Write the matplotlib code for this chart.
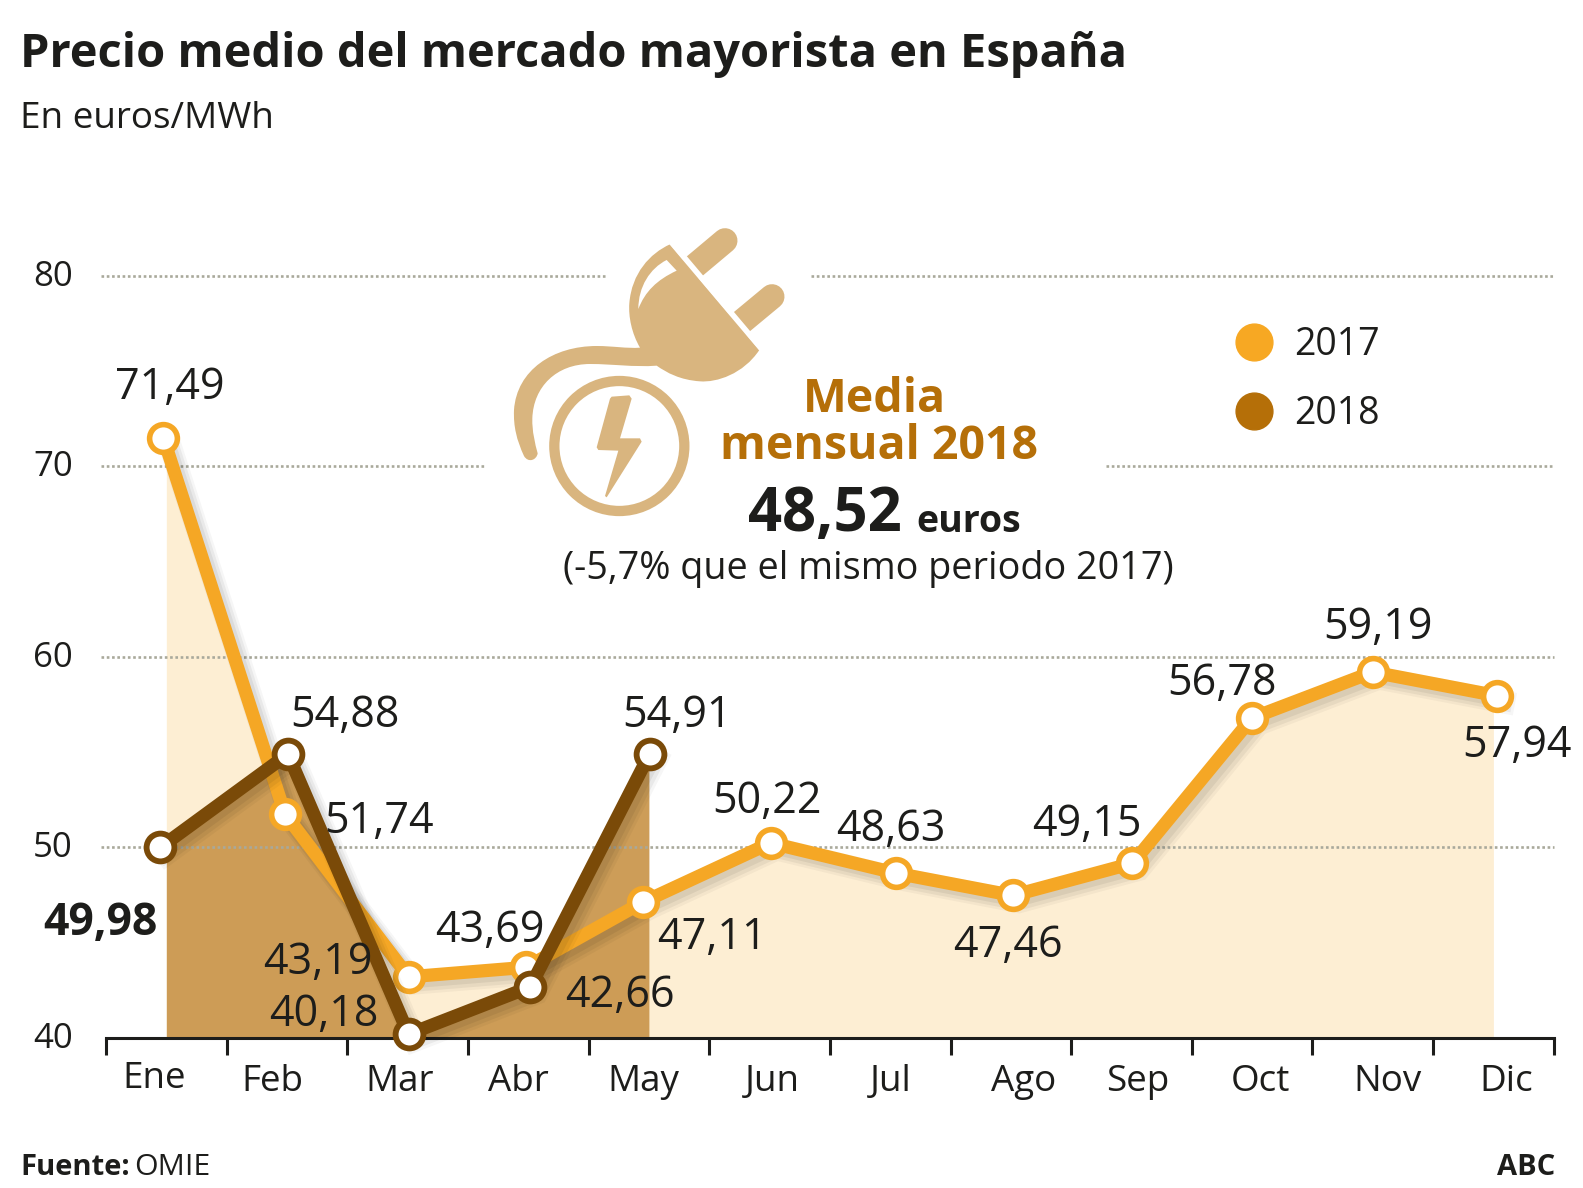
import matplotlib
matplotlib.use("Agg")
import matplotlib.pyplot as plt
import matplotlib.patheffects as pe
from matplotlib.path import Path
from matplotlib.patches import PathPatch, Circle
from matplotlib.lines import Line2D
from matplotlib.transforms import ScaledTranslation
import numpy as np

# ---------- data ----------
months = ["Ene", "Feb", "Mar", "Abr", "May", "Jun", "Jul", "Ago", "Sep", "Oct", "Nov", "Dic"]
values_2017 = [71.49, 51.74, 43.19, 43.69, 47.11, 50.22, 48.63, 47.46, 49.15, 56.78, 59.19, 57.94]
values_2018 = [49.98, 54.88, 40.18, 42.66, 54.91]
y_ticks = [40, 50, 60, 70, 80]

# ---------- colours / fonts ----------
C17, C18 = "#f5a725", "#7a4a08"
F17, F18 = "#fdeed3", "#cc9a52"
ICON, GOLD, INK, GRID = "#d9b57f", "#b56f08", "#1d1d1b", "#a9a99b"
plt.rcParams["font.family"] = ["Open Sans", "DejaVu Sans"]

W, H = 1568.0, 1177.0   # layout reference
fig = plt.figure(figsize=(15.83, 11.88), dpi=100, facecolor="white")
ax = fig.add_axes([105 / W, 1 - 1028 / H, (1539 - 105) / W, (1028 - 273) / H])
ax.set_xlim(0, 12)
ax.set_ylim(40, 80)
ax.patch.set_alpha(0)
for s in ("left", "right", "top"):
    ax.spines[s].set_visible(False)
ax.spines["bottom"].set_linewidth(2.2)
ax.spines["bottom"].set_color(INK)

PX = 12 / (1539 - 105)     # one layout pixel in month units
centres = np.arange(12) + 0.5
nudge_17 = np.array([-3, -2, 1, -2, -6, 1, 6, 2, 1, 0, 0, 4]) * PX
nudge_18 = np.array([-6, 1, 1, 2, 1]) * PX

# ticks
ax.set_xticks(np.arange(13))
ax.set_xticklabels([])
ax.tick_params(axis="x", which="major", length=12.5, width=2.2, color=INK, direction="out")
label_nudge = np.array([-12, -14, -8, -10, -6, 3, 1, 13, 6, 8, 15, 13]) * PX
ax.set_xticks(centres + label_nudge, months, minor=True)
ax.tick_params(axis="x", which="minor", length=0, pad=19, labelsize=26.5, labelcolor=INK)
for i, lab in enumerate(ax.get_xticklabels(minor=True)):
    if i == 0:
        lab.set_transform(lab.get_transform() + ScaledTranslation(0, 3 / 100, fig.dpi_scale_trans))
ax.set_yticks(y_ticks, [str(v) for v in y_ticks])
ax.tick_params(axis="y", length=0, pad=24, labelsize=25, labelcolor=INK)
for lab in ax.get_yticklabels():
    lab.set_transform(lab.get_transform() + ScaledTranslation(0, 3 / 100, fig.dpi_scale_trans))

# fills
ax.fill_between(centres, 40, values_2017, color=F17, lw=0, zorder=1)
ax.fill_between(centres[:5], 40, values_2018, color=F18, lw=0, zorder=1.5, alpha=0.97)

# grid (interrupted behind the plug artwork)
grid_spans = {80: [(-5, 600), (803, 1539)], 70: [(-5, 480), (1096, 1539)],
              60: [(-5, 1539)], 50: [(-5, 1539)]}
for val, spans in grid_spans.items():
    for a, b in spans:
        a0 = 100 if a < 0 else a
        ax.plot([(a0 - 105) * PX, (b - 105) * PX], [val, val], color=GRID, lw=1.9,
                ls=(0, (1.0, 1.0)), zorder=2, clip_on=False)


def shadow(lw):
    return [pe.SimpleLineShadow(offset=(o, -o), alpha=a, shadow_color="#000000", linewidth=lw + w)
            for o, a, w in ((4.5, 0.035, 7), (4, 0.05, 4), (3, 0.06, 1))] + [pe.Normal()]


x17 = centres + nudge_17
x18 = centres[:5] + nudge_18
ax.plot(x17, values_2017, color=C17, lw=9.5, zorder=3, clip_on=False,
        solid_joinstyle="miter", path_effects=shadow(9.5))
ax.plot(x17, values_2017, ls="none", marker="o", ms=20, mfc="white", mec=C17, mew=4,
        zorder=3.2, clip_on=False)
ax.plot(x18, values_2018, color=C18, lw=9.5, zorder=4, clip_on=False,
        solid_joinstyle="miter", path_effects=shadow(9.5))
ax.plot(x18, values_2018, ls="none", marker="o", ms=20, mfc="white", mec=C18, mew=4.2,
        zorder=4.2, clip_on=False)


def T(x, y, s, **kw):
    kw.setdefault("ha", "center")
    kw.setdefault("va", "center")
    kw.setdefault("color", INK)
    return fig.text(x / W, 1 - (y + 4) / H, s, **kw)


def fmt(v):
    return f"{v:.2f}".replace(".", ",")


# value labels
pos_17 = [(168, 380), (375, 810), (315, 950), (485, 918), (705, 925), (760, 790),
          (882, 818), (998, 933), (1077, 813), (1210, 673), (1365, 618), (1503, 735)]
pos_18 = [(99, 911), (342, 705), (321, 1001), (614, 983), (671, 705)]
for v, (x, y) in zip(values_2017, pos_17):
    T(x, y, fmt(v), fontsize=31, zorder=6)
for i, (v, (x, y)) in enumerate(zip(values_2018, pos_18)):
    T(x, y, fmt(v), fontsize=32 if i == 0 else 31, zorder=6,
      fontweight="bold" if i == 0 else "normal")

# header / footer
T(20, 50, "Precio medio del mercado mayorista en España", ha="left", fontsize=33.8, fontweight="bold")
T(20, 114, "En euros/MWh", ha="left", fontsize=26.6)
T(20, 1153, "Fuente:", ha="left", fontsize=21, fontweight="bold")
T(133, 1153, "OMIE", ha="left", fontsize=21.8)
T(1541, 1153, "ABC", ha="right", fontsize=21, fontweight="bold")

# central note
T(866, 392, "Media", fontsize=33.5, fontweight="bold", color=GOLD)
T(871, 438, "mensual 2018", fontsize=33.5, fontweight="bold", color=GOLD)
T(817, 507, "48,52", fontsize=43, fontweight="bold")
T(960, 513, "euros", fontsize=27, fontweight="bold")
T(860, 560, "(-5,7% que el mismo periodo 2017)", fontsize=27.2)

# legend
handles = [Line2D([], [], ls="none", marker="o", ms=26.5, color="#f7a823", label="2017"),
           Line2D([], [], ls="none", marker="o", ms=26.5, color=GOLD, label="2018")]
leg = fig.legend(handles=handles, loc="center left", bbox_to_anchor=(1198 / W, 1 - 376 / H),
                 frameon=False, fontsize=27, labelspacing=0.82, handletextpad=0.35,
                 handlelength=1.4, borderpad=0, labelcolor=INK)

# plug artwork, drawn in a crop-sized overlay
ix = fig.add_axes([490 / 1583, 1 - 510 / 1188, 320 / 1583, 300 / 1188])
ix.set_xlim(0, 960)
ix.set_ylim(900, 0)
ix.axis("off")
for (a, b) in (((612, 170), (705, 92)), ((752, 338), (846, 260))):
    ix.add_line(Line2D([a[0], b[0]], [a[1], b[1]], color=ICON, lw=18, solid_capstyle="round"))
ix.add_line(Line2D([546, 814], [99, 416], color="white", lw=4))
M, L, C, Z = Path.MOVETO, Path.LINETO, Path.CURVE4, Path.CLOSEPOLY
body = [(M, (540, 103)), (L, (808, 420)),
        (C, (760, 492)), (C, (680, 518)), (C, (630, 514)),
        (C, (570, 510)), (C, (530, 488)), (C, (500, 467)),
        (C, (430, 472)), (C, (370, 462)), (C, (300, 462)),
        (C, (200, 462)), (C, (130, 530)), (C, (127, 625)),
        (C, (126, 665)), (C, (135, 700)), (C, (143, 730)),
        (C, (140, 750)), (C, (115, 760)), (C, (102, 738)),
        (C, (80, 690)), (C, (70, 650)), (C, (72, 600)),
        (C, (80, 480)), (C, (190, 408)), (C, (320, 408)),
        (C, (370, 408)), (C, (410, 416)), (C, (450, 413)),
        (C, (425, 370)), (C, (415, 320)), (C, (418, 280)),
        (C, (425, 190)), (C, (480, 130)), (C, (540, 103)),
        (Z, (540, 103))]
ix.add_patch(PathPatch(Path([p for _, p in body], [c for c, _ in body]), fc=ICON, ec="none"))
sl = [(M, (530, 150)), (L, (560, 182)), (C, (500, 210)), (C, (465, 245)), (C, (445, 297)),
      (C, (445, 230)), (C, (480, 175)), (C, (530, 150)), (Z, (530, 150))]
ix.add_patch(PathPatch(Path([p for _, p in sl], [c for c, _ in sl]), fc="white", ec="none"))
ix.add_patch(Circle((388, 708), 195, fc="none", ec=ICON, lw=7.4, clip_on=False))
bolt = [(365, 560), (418, 556), (425, 566), (390, 685), (450, 685), (455, 695), (350, 862),
        (345, 858), (385, 722), (325, 720), (320, 712), (360, 566)]
ix.fill([p[0] for p in bolt], [p[1] for p in bolt], fc=ICON, ec="none")

fig.savefig("out.png", dpi=100)
